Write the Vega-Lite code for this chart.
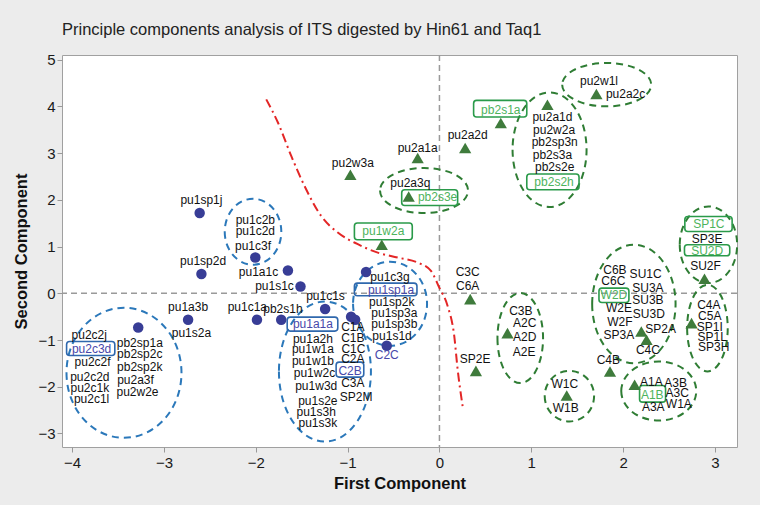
{
  "$schema": "https://vega.github.io/schema/vega-lite/v6.json",
  "width": 675,
  "height": 392,
  "autosize": "none",
  "padding": {"left": 62, "top": 55, "right": 23, "bottom": 58},
  "background": "#ececec",
  "title": {
    "text": "Principle components analysis of ITS digested by Hin61 and Taq1",
    "anchor": "start",
    "frame": "group",
    "font": "Liberation Sans",
    "fontSize": 16.5,
    "fontWeight": "normal",
    "color": "#222222",
    "offset": 14
  },
  "config": {
    "view": {"fill": "white", "stroke": "#a0a0a0", "strokeWidth": 1},
    "axis": {
      "labelFont": "Liberation Sans",
      "labelFontSize": 15,
      "labelColor": "#1a1a1a",
      "titleFont": "Liberation Sans",
      "titleFontSize": 16.5,
      "titleFontWeight": "bold",
      "titleColor": "#111111",
      "tickColor": "#999999",
      "tickSize": 5,
      "domain": false,
      "grid": false
    }
  },
  "datasets": {
    "points": [
      {"id": "pu1sp1j", "x": -2.611, "y": 1.717, "grp": "blue"},
      {"id": "pu1sp2d", "x": -2.592, "y": 0.411, "grp": "blue"},
      {"id": "pu1a3b", "x": -2.737, "y": -0.567, "grp": "blue"},
      {"id": "pu2c2j", "x": -3.28, "y": -0.732, "grp": "blue"},
      {"id": "pu1c3f", "x": -2.005, "y": 0.767, "grp": "blue"},
      {"id": "pu1a1c", "x": -1.65, "y": 0.488, "grp": "blue"},
      {"id": "pu1s1c", "x": -1.513, "y": 0.146, "grp": "blue"},
      {"id": "pu1c1a", "x": -1.987, "y": -0.567, "grp": "blue"},
      {"id": "pb2s1h", "x": -1.723, "y": -0.567, "grp": "blue"},
      {"id": "pu1c1s", "x": -1.245, "y": -0.338, "grp": "blue"},
      {"id": "pu1a1a", "x": -0.962, "y": -0.503, "grp": "blue"},
      {"id": "C1A", "x": -0.918, "y": -0.567, "grp": "blue"},
      {"id": "pu1c3g", "x": -0.799, "y": 0.454, "grp": "blue"},
      {"id": "C2C", "x": -0.574, "y": -1.124, "grp": "blue"},
      {"id": "pu2w3a", "x": -0.97, "y": 2.537, "grp": "green"},
      {"id": "pu2a1a", "x": -0.237, "y": 2.895, "grp": "green"},
      {"id": "pb2s3e", "x": -0.335, "y": 2.073, "grp": "green"},
      {"id": "pu1w2a", "x": -0.628, "y": 1.039, "grp": "green"},
      {"id": "pu2a2d", "x": 0.28, "y": 3.109, "grp": "green"},
      {"id": "pb2s1a", "x": 0.668, "y": 3.645, "grp": "green"},
      {"id": "pu2a1d", "x": 1.176, "y": 4.036, "grp": "green"},
      {"id": "pu2a2c", "x": 1.709, "y": 4.266, "grp": "green"},
      {"id": "C3C", "x": 0.335, "y": -0.124, "grp": "green"},
      {"id": "C3B", "x": 0.741, "y": -0.852, "grp": "green"},
      {"id": "SP2E", "x": 0.397, "y": -1.66, "grp": "green"},
      {"id": "W1C", "x": 1.386, "y": -2.188, "grp": "green"},
      {"id": "C4B", "x": 1.857, "y": -1.675, "grp": "green"},
      {"id": "A1A", "x": 2.125, "y": -1.959, "grp": "green"},
      {"id": "SP2A", "x": 2.198, "y": -0.818, "grp": "green"},
      {"id": "C4C", "x": 2.255, "y": -0.996, "grp": "green"},
      {"id": "C4A", "x": 2.745, "y": -0.638, "grp": "green"},
      {"id": "SU2F", "x": 2.886, "y": 0.31, "grp": "green"}
    ],
    "labels": [
      {"t": "pu1sp1j", "x": -2.592, "y": 1.987, "kind": "plain"},
      {"t": "pu1sp2d", "x": -2.574, "y": 0.696, "kind": "plain"},
      {"t": "pu1a3b", "x": -2.737, "y": -0.304, "kind": "plain"},
      {"t": "pu1s2a", "x": -2.701, "y": -0.852, "kind": "plain"},
      {"t": "pu2c2j", "x": -3.813, "y": -0.889, "kind": "plain"},
      {"t": "pu2c3d", "x": -3.788, "y": -1.188, "kind": "blue"},
      {"t": "pu2c2f", "x": -3.777, "y": -1.478, "kind": "plain"},
      {"t": "pu2c2d", "x": -3.807, "y": -1.794, "kind": "plain"},
      {"t": "pu2c1k", "x": -3.807, "y": -2.03, "kind": "plain"},
      {"t": "pu2c1l", "x": -3.788, "y": -2.259, "kind": "plain"},
      {"t": "pb2sp1a", "x": -3.263, "y": -1.054, "kind": "plain"},
      {"t": "pb2sp2c", "x": -3.263, "y": -1.302, "kind": "plain"},
      {"t": "pb2sp2k", "x": -3.263, "y": -1.58, "kind": "plain"},
      {"t": "pu2a3f", "x": -3.31, "y": -1.852, "kind": "plain"},
      {"t": "pu2w2e", "x": -3.288, "y": -2.116, "kind": "plain"},
      {"t": "pu1c2b", "x": -2.005, "y": 1.574, "kind": "plain"},
      {"t": "pu1c2d", "x": -2.005, "y": 1.323, "kind": "plain"},
      {"t": "pu1c3f", "x": -2.03, "y": 1.002, "kind": "plain"},
      {"t": "pu1a1c", "x": -1.97, "y": 0.454, "kind": "plain"},
      {"t": "pu1s1c", "x": -1.796, "y": 0.146, "kind": "plain"},
      {"t": "pu1c1a", "x": -2.092, "y": -0.296, "kind": "plain"},
      {"t": "pb2s1h", "x": -1.704, "y": -0.338, "kind": "plain"},
      {"t": "pu1c1s", "x": -1.241, "y": -0.054, "kind": "plain"},
      {"t": "pu1a1a", "x": -1.378, "y": -0.653, "kind": "blue"},
      {"t": "pu1a2h", "x": -1.378, "y": -0.974, "kind": "plain"},
      {"t": "pu1w1a", "x": -1.378, "y": -1.195, "kind": "plain"},
      {"t": "pu1w1b", "x": -1.378, "y": -1.439, "kind": "plain"},
      {"t": "pu1w2c", "x": -1.361, "y": -1.696, "kind": "plain"},
      {"t": "pu1w3d", "x": -1.342, "y": -1.981, "kind": "plain"},
      {"t": "pu1s2e", "x": -1.324, "y": -2.302, "kind": "plain"},
      {"t": "pu1s3h", "x": -1.342, "y": -2.531, "kind": "plain"},
      {"t": "pu1s3k", "x": -1.324, "y": -2.767, "kind": "plain"},
      {"t": "C1A", "x": -0.943, "y": -0.724, "kind": "plain"},
      {"t": "C1B", "x": -0.943, "y": -0.953, "kind": "plain"},
      {"t": "C1C", "x": -0.937, "y": -1.182, "kind": "plain"},
      {"t": "C2A", "x": -0.943, "y": -1.409, "kind": "plain"},
      {"t": "C2B", "x": -0.973, "y": -1.653, "kind": "blue"},
      {"t": "C3A", "x": -0.943, "y": -1.923, "kind": "plain"},
      {"t": "SP2M", "x": -0.908, "y": -2.21, "kind": "plain"},
      {"t": "pu1c3g", "x": -0.538, "y": 0.347, "kind": "plain"},
      {"t": "pu1sp1a", "x": -0.527, "y": 0.06, "kind": "blue"},
      {"t": "pu1sp2k", "x": -0.52, "y": -0.197, "kind": "plain"},
      {"t": "pu1sp3a", "x": -0.491, "y": -0.424, "kind": "plain"},
      {"t": "pu1sp3b", "x": -0.491, "y": -0.66, "kind": "plain"},
      {"t": "pu1s1d", "x": -0.516, "y": -0.904, "kind": "plain"},
      {"t": "C2C", "x": -0.574, "y": -1.317, "kind": "blue"},
      {"t": "pu2w3a", "x": -0.943, "y": 2.788, "kind": "plain"},
      {"t": "pu2a1a", "x": -0.237, "y": 3.109, "kind": "plain"},
      {"t": "pu2a3q", "x": -0.317, "y": 2.36, "kind": "plain"},
      {"t": "pb2s3e", "x": -0.02, "y": 2.06, "kind": "green"},
      {"t": "pu1w2a", "x": -0.611, "y": 1.323, "kind": "green"},
      {"t": "pu2a2d", "x": 0.307, "y": 3.394, "kind": "plain"},
      {"t": "pb2s1a", "x": 0.668, "y": 3.914, "kind": "green"},
      {"t": "pu2a1d", "x": 1.23, "y": 3.773, "kind": "plain"},
      {"t": "pu2w2a", "x": 1.248, "y": 3.486, "kind": "plain"},
      {"t": "pb2sp3n", "x": 1.255, "y": 3.229, "kind": "plain"},
      {"t": "pb2s3a", "x": 1.23, "y": 2.966, "kind": "plain"},
      {"t": "pb2s2e", "x": 1.255, "y": 2.702, "kind": "plain"},
      {"t": "pb2s2h", "x": 1.248, "y": 2.381, "kind": "green"},
      {"t": "pu2w1l", "x": 1.737, "y": 4.535, "kind": "plain"},
      {"t": "pu2a2c", "x": 2.027, "y": 4.266, "kind": "plain"},
      {"t": "C3C", "x": 0.307, "y": 0.454, "kind": "plain"},
      {"t": "C6A", "x": 0.307, "y": 0.161, "kind": "plain"},
      {"t": "C3B", "x": 0.886, "y": -0.375, "kind": "plain"},
      {"t": "A2C", "x": 0.929, "y": -0.638, "kind": "plain"},
      {"t": "A2D", "x": 0.929, "y": -0.946, "kind": "plain"},
      {"t": "A2E", "x": 0.922, "y": -1.259, "kind": "plain"},
      {"t": "SP2E", "x": 0.389, "y": -1.403, "kind": "plain"},
      {"t": "W1C", "x": 1.364, "y": -1.938, "kind": "plain"},
      {"t": "W1B", "x": 1.375, "y": -2.445, "kind": "plain"},
      {"t": "C4B", "x": 1.839, "y": -1.424, "kind": "plain"},
      {"t": "C6B", "x": 1.911, "y": 0.503, "kind": "plain"},
      {"t": "C6C", "x": 1.893, "y": 0.253, "kind": "plain"},
      {"t": "W2D", "x": 1.9, "y": -0.047, "kind": "green"},
      {"t": "W2E", "x": 1.954, "y": -0.317, "kind": "plain"},
      {"t": "W2F", "x": 1.965, "y": -0.625, "kind": "plain"},
      {"t": "SP3A", "x": 1.954, "y": -0.889, "kind": "plain"},
      {"t": "SU1C", "x": 2.245, "y": 0.418, "kind": "plain"},
      {"t": "SU3A", "x": 2.27, "y": 0.111, "kind": "plain"},
      {"t": "SU3B", "x": 2.27, "y": -0.139, "kind": "plain"},
      {"t": "SU3D", "x": 2.28, "y": -0.445, "kind": "plain"},
      {"t": "SP2A", "x": 2.408, "y": -0.767, "kind": "plain"},
      {"t": "C4C", "x": 2.27, "y": -1.21, "kind": "plain"},
      {"t": "SP1C", "x": 2.933, "y": 1.482, "kind": "green"},
      {"t": "SP3E", "x": 2.915, "y": 1.161, "kind": "plain"},
      {"t": "SU2D", "x": 2.915, "y": 0.91, "kind": "green"},
      {"t": "SU2F", "x": 2.897, "y": 0.574, "kind": "plain"},
      {"t": "C4A", "x": 2.933, "y": -0.253, "kind": "plain"},
      {"t": "C5A", "x": 2.943, "y": -0.482, "kind": "plain"},
      {"t": "SP1I", "x": 2.943, "y": -0.711, "kind": "plain"},
      {"t": "SP1L", "x": 2.97, "y": -0.925, "kind": "plain"},
      {"t": "SP3H", "x": 2.987, "y": -1.139, "kind": "plain"},
      {"t": "A1A", "x": 2.307, "y": -1.889, "kind": "plain"},
      {"t": "A3B", "x": 2.571, "y": -1.91, "kind": "plain"},
      {"t": "A1B", "x": 2.317, "y": -2.173, "kind": "green"},
      {"t": "A3C", "x": 2.589, "y": -2.137, "kind": "plain"},
      {"t": "A3A", "x": 2.328, "y": -2.437, "kind": "plain"},
      {"t": "W1A", "x": 2.607, "y": -2.373, "kind": "plain"}
    ],
    "boxes": [
      {"t": "pu2c3d", "x1": -4.06, "x2": -3.535, "y1": -1.032, "y2": -1.332, "grp": "blue"},
      {"t": "pu1a1a", "x1": -1.658, "x2": -1.107, "y1": -0.51, "y2": -0.809, "grp": "blue"},
      {"t": "C2B", "x1": -1.125, "x2": -0.824, "y1": -1.473, "y2": -1.794, "grp": "blue"},
      {"t": "pu1sp1a", "x1": -0.926, "x2": -0.245, "y1": 0.218, "y2": -0.054, "grp": "blue"},
      {"t": "pb2s3e", "x1": -0.411, "x2": 0.198, "y1": 2.216, "y2": 1.88, "grp": "green"},
      {"t": "pu1w2a", "x1": -0.926, "x2": -0.296, "y1": 1.503, "y2": 1.146, "grp": "green"},
      {"t": "pb2s1a", "x1": 0.372, "x2": 0.951, "y1": 4.128, "y2": 3.773, "grp": "green"},
      {"t": "pb2s2h", "x1": 0.951, "x2": 1.52, "y1": 2.552, "y2": 2.216, "grp": "green"},
      {"t": "W2D", "x1": 1.737, "x2": 2.063, "y1": 0.111, "y2": -0.197, "grp": "green"},
      {"t": "SP1C", "x1": 2.672, "x2": 3.187, "y1": 1.645, "y2": 1.323, "grp": "green"},
      {"t": "SU2D", "x1": 2.668, "x2": 3.161, "y1": 1.039, "y2": 0.803, "grp": "green"},
      {"t": "A1B", "x1": 2.179, "x2": 2.462, "y1": -1.974, "y2": -2.33, "grp": "green"}
    ],
    "ellipses": [
      {"id": "E1", "x": -3.435, "y": -1.702, "grp": "blue"},
      {"id": "E2", "x": -2.03, "y": 1.317, "grp": "blue"},
      {"id": "E3", "x": -1.247, "y": -1.675, "grp": "blue"},
      {"id": "E4", "x": -0.538, "y": -0.225, "grp": "blue"},
      {"id": "E5", "x": -0.168, "y": 2.199, "grp": "green"},
      {"id": "E6", "x": 1.199, "y": 3.073, "grp": "green"},
      {"id": "E7", "x": 1.821, "y": 4.465, "grp": "green"},
      {"id": "E8", "x": 0.88, "y": -0.959, "grp": "green"},
      {"id": "E9", "x": 1.415, "y": -2.201, "grp": "green"},
      {"id": "E10", "x": 2.117, "y": -0.229, "grp": "green"},
      {"id": "E11", "x": 2.929, "y": 1.039, "grp": "green"},
      {"id": "E12", "x": 2.918, "y": -0.745, "grp": "green"},
      {"id": "E13", "x": 2.388, "y": -2.092, "grp": "green"}
    ],
    "curve": [
      {"x": -1.886, "y": 4.15},
      {"x": -1.759, "y": 3.655},
      {"x": -1.614, "y": 2.94},
      {"x": -1.47, "y": 2.3},
      {"x": -1.288, "y": 1.655},
      {"x": -1.107, "y": 1.3},
      {"x": -0.889, "y": 1.05},
      {"x": -0.672, "y": 0.87},
      {"x": -0.454, "y": 0.765},
      {"x": -0.237, "y": 0.657},
      {"x": -0.092, "y": 0.478},
      {"x": -0.002, "y": 0.122},
      {"x": 0.089, "y": -0.272},
      {"x": 0.161, "y": -0.914},
      {"x": 0.198, "y": -1.627},
      {"x": 0.252, "y": -2.413}
    ],
    "zero": [{"v": 0}]
  },
  "layer": [
    {
      "data": {"name": "zero"},
      "mark": {"type": "rule", "color": "#9a9a9a", "strokeDash": [6, 4], "strokeWidth": 1.5},
      "encoding": {
        "x": {"field": "v", "type": "quantitative", "scale": {"domain": [-4.11, 3.24], "nice": false, "zero": false},
          "axis": {"values": [-4, -3, -2, -1, 0, 1, 2, 3], "format": "d", "title": "First Component", "labelPadding": 3, "titlePadding": 5}}
      }
    },
    {
      "data": {"name": "zero"},
      "mark": {"type": "rule", "color": "#9a9a9a", "strokeDash": [6, 4], "strokeWidth": 1.5},
      "encoding": {
        "y": {"field": "v", "type": "quantitative", "scale": {"domain": [-3.29, 5.1], "nice": false, "zero": false},
          "axis": {"values": [-3, -2, -1, 0, 1, 2, 3, 4, 5], "format": "d", "title": "Second Component", "labelPadding": 2, "titlePadding": 8}}
      }
    },
    {
      "data": {"name": "ellipses"},
      "mark": {"type": "point", "filled": false, "strokeWidth": 2, "strokeDash": [7, 5], "size": 40000, "opacity": 1},
      "encoding": {
        "x": {"field": "x", "type": "quantitative"},
        "y": {"field": "y", "type": "quantitative"},
        "shape": {"field": "id", "type": "nominal", "legend": null,
          "scale": {"domain": ["E1","E2","E3","E4","E5","E6","E7","E8","E9","E10","E11","E12","E13"],
            "range": [
              "M -0.575 0 A 0.575 0.65 0 1 0 0.575 0 A 0.575 0.65 0 1 0 -0.575 0 Z",
              "M -0.283 0 A 0.283 0.33 0 1 0 0.283 0 A 0.283 0.33 0 1 0 -0.283 0 Z",
              "M -0.46 0 A 0.46 0.7 0 1 0 0.46 0 A 0.46 0.7 0 1 0 -0.46 0 Z",
              "M -0.37 0 A 0.37 0.42 0 1 0 0.37 0 A 0.37 0.42 0 1 0 -0.37 0 Z",
              "M -0.44 0 A 0.44 0.225 0 1 0 0.44 0 A 0.44 0.225 0 1 0 -0.44 0 Z",
              "M -0.37 0 A 0.37 0.573 0 1 0 0.37 0 A 0.37 0.573 0 1 0 -0.37 0 Z",
              "M -0.445 0 A 0.445 0.217 0 1 0 0.445 0 A 0.445 0.217 0 1 0 -0.445 0 Z",
              "M -0.228 0 A 0.228 0.45 0 1 0 0.228 0 A 0.228 0.45 0 1 0 -0.228 0 Z",
              "M -0.247 0 A 0.247 0.253 0 1 0 0.247 0 A 0.247 0.253 0 1 0 -0.247 0 Z",
              "M -0.417 0 A 0.417 0.592 0 1 0 0.417 0 A 0.417 0.592 0 1 0 -0.417 0 Z",
              "M -0.287 0 A 0.287 0.383 0 1 0 0.287 0 A 0.287 0.383 0 1 0 -0.287 0 Z",
              "M -0.203 0 A 0.203 0.433 0 1 0 0.203 0 A 0.203 0.433 0 1 0 -0.203 0 Z",
              "M -0.375 0 A 0.375 0.295 0 1 0 0.375 0 A 0.375 0.295 0 1 0 -0.375 0 Z"
            ]}},
        "stroke": {"condition": {"test": "datum.grp === 'blue'", "value": "#2b78ba"}, "value": "#2f7d34"}
      }
    },
    {
      "data": {"name": "curve"},
      "mark": {"type": "line", "color": "#e32626", "strokeWidth": 2, "strokeDash": [9, 4, 2, 4], "interpolate": "monotone"},
      "encoding": {
        "x": {"field": "x", "type": "quantitative"},
        "y": {"field": "y", "type": "quantitative"}
      }
    },
    {
      "data": {"name": "boxes"},
      "mark": {"type": "rect", "filled": false, "strokeWidth": 1.6, "cornerRadius": 3},
      "encoding": {
        "x": {"field": "x1", "type": "quantitative"},
        "x2": {"field": "x2"},
        "y": {"field": "y1", "type": "quantitative"},
        "y2": {"field": "y2"},
        "stroke": {"condition": {"test": "datum.grp === 'blue'", "value": "#2f68ad"}, "value": "#2a9a4a"}
      }
    },
    {
      "data": {"name": "points"},
      "transform": [{"filter": "datum.grp === 'blue'"}],
      "mark": {"type": "point", "shape": "circle", "filled": true, "size": 110, "color": "#383d96", "opacity": 1},
      "encoding": {
        "x": {"field": "x", "type": "quantitative"},
        "y": {"field": "y", "type": "quantitative"}
      }
    },
    {
      "data": {"name": "points"},
      "transform": [{"filter": "datum.grp === 'green'"}],
      "mark": {"type": "point", "shape": "triangle-up", "filled": true, "size": 150, "color": "#3f7b3c", "opacity": 1},
      "encoding": {
        "x": {"field": "x", "type": "quantitative"},
        "y": {"field": "y", "type": "quantitative"}
      }
    },
    {
      "data": {"name": "labels"},
      "mark": {"type": "text", "font": "Liberation Sans", "fontSize": 12, "align": "center", "baseline": "middle"},
      "encoding": {
        "x": {"field": "x", "type": "quantitative"},
        "y": {"field": "y", "type": "quantitative"},
        "text": {"field": "t"},
        "color": {"condition": [
          {"test": "datum.kind === 'blue'", "value": "#4848aa"},
          {"test": "datum.kind === 'green'", "value": "#4db35c"}
        ], "value": "#111111"}
      }
    }
  ]
}
